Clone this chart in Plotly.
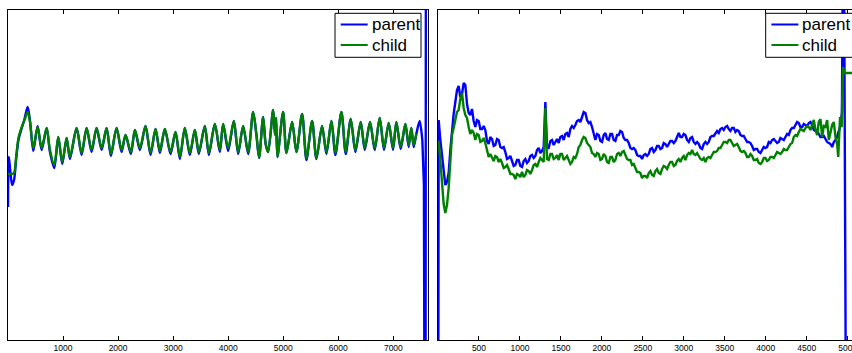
import plotly.graph_objects as go

# ---------------- data (y in arbitrary units) ----------------
# Left panel: shared sample positions for parent / child (peaks & troughs)
LEFT_X = [0, 15, 40, 75, 110, 150, 190, 250, 300, 357, 400, 460, 538, 611, 702, 762, 841, 913, 986,
          1065, 1125, 1246, 1337, 1428, 1518, 1609, 1700, 1791, 1869, 1972, 2063, 2136, 2232, 2305,
          2396, 2498, 2589, 2680, 2759, 2849, 2952, 3043, 3122, 3212, 3303, 3394, 3466, 3575, 3648,
          3757, 3848, 3908, 3999, 4102, 4181, 4271, 4362, 4453, 4513, 4561, 4634, 4680, 4725, 4816,
          4850, 4870, 4894, 4997, 5058, 5161, 5239, 5342, 5421, 5524, 5602, 5705, 5784, 5875, 5947,
          6056, 6135, 6225, 6310, 6407, 6480, 6576, 6661, 6752, 6830, 6915, 6994, 7054, 7133, 7218,
          7278, 7326, 7369, 7417]
LEFT_PARENT = [133, 183, 170, 155, 160, 182, 200, 212, 221, 233, 219, 189, 214, 190, 212, 188, 172, 203, 176,
               202, 181, 212, 185, 212, 188, 212, 190, 212, 184, 212, 188, 205, 186, 210,
               190, 214, 185, 211, 187, 211, 186, 208, 181, 212, 185, 210, 186, 214, 185,
               216, 188, 216, 189, 219, 186, 214, 186, 228, 205, 182, 223, 196, 188, 230,
               205, 222, 183, 228, 187, 218, 188, 226, 180, 219, 181, 214, 186, 219, 185,
               228, 186, 221, 188, 218, 190, 218, 190, 222, 190, 217, 190, 218, 191, 216,
               193, 212, 193, 206]
LEFT_CHILD = [166, 166, 166, 166, 167, 184, 202, 213, 220, 228, 218, 192, 213, 192, 212, 190, 175, 203, 178,
              202, 183, 212, 187, 212, 190, 212, 192, 212, 186, 212, 190, 205, 188, 210,
              192, 214, 187, 211, 189, 211, 188, 208, 183, 212, 187, 210, 188, 214, 187,
              216, 190, 216, 192, 219, 188, 214, 188, 228, 205, 182, 223, 196, 188, 230,
              205, 222, 183, 228, 187, 218, 188, 226, 182, 219, 182, 214, 188, 219, 187,
              228, 188, 221, 190, 218, 192, 218, 192, 222, 192, 217, 192, 218, 193, 216,
              195, 212, 195, 206]
LEFT_PARENT_END_X = [7477, 7526]
LEFT_PARENT_END = [219, 200]
LEFT_PARENT_TAIL_X = [7526, 7555, 7580, 7595]
LEFT_PARENT_TAIL = [200, 155, -400, 700]

# Right panel: regular sample grid (start, step) and values
R_START, R_STEP = 8, 20.35
R_PARENT = [220, 200, 183, 166, 155, 158, 167, 190, 210, 226, 238, 250, 254, 243, 246, 257, 255, 236, 227, 225,
            231, 219, 213, 220, 219, 211, 211, 214, 210, 199, 196, 203, 201, 194, 195, 201, 200, 193, 192, 193,
            188, 181, 182, 184, 179, 174, 175, 180, 180, 174, 173, 179, 181, 177, 179, 184, 185, 182, 184, 190,
            192, 187, 189, 193, 238, 192, 192, 199, 200, 195, 198, 201, 197, 203, 204, 200, 206, 207, 203, 211,
            214, 212, 215, 219, 220, 218, 223, 228, 227, 220, 217, 218, 213, 205, 200, 206, 205, 199, 198, 205,
            207, 201, 200, 206, 206, 200, 199, 205, 205, 209, 208, 202, 200, 200, 197, 192, 191, 192, 190, 185,
            184, 184, 181, 185, 186, 184, 186, 191, 192, 188, 190, 194, 194, 191, 192, 197, 196, 193, 196, 199,
            199, 197, 199, 204, 207, 203, 203, 206, 205, 200, 198, 202, 203, 198, 196, 198, 196, 192, 191, 196,
            198, 196, 198, 203, 204, 204, 207, 209, 207, 211, 212, 210, 213, 214, 211, 209, 212, 212, 208, 210,
            209, 205, 204, 204, 201, 198, 198, 197, 194, 190, 191, 191, 188, 187, 190, 193, 192, 193, 198, 197,
            200, 201, 199, 197, 198, 202, 201, 200, 203, 206, 205, 210, 212, 212, 215, 218, 217, 213, 213, 216,
            215, 214, 217, 218, 215, 210, 209, 209, 206, 203, 203, 204, 201, 198, 197, 196, 193, 198, 200, 203]
R_CHILD = [198, 180, 153, 136, 127, 135, 152, 182, 205, 212, 220, 228, 230, 241, 247, 232, 225, 222, 213, 206,
           210, 207, 200, 206, 205, 198, 199, 202, 197, 188, 183, 186, 182, 179, 184, 183, 178, 181, 177, 172,
           173, 175, 171, 166, 166, 165, 161, 166, 165, 163, 168, 163, 165, 170, 169, 166, 170, 175, 176, 173,
           178, 182, 180, 178, 232, 181, 180, 186, 186, 181, 182, 185, 180, 186, 186, 180, 182, 184, 180, 176,
           178, 183, 182, 186, 193, 195, 200, 203, 202, 197, 195, 193, 187, 186, 183, 187, 186, 180, 181, 186,
           184, 178, 177, 183, 183, 178, 180, 186, 187, 184, 188, 189, 185, 181, 180, 180, 175, 176, 172, 168,
           168, 167, 162, 164, 164, 162, 167, 169, 165, 164, 169, 171, 167, 166, 171, 174, 173, 171, 175, 178,
           178, 174, 175, 179, 181, 178, 182, 184, 180, 185, 187, 186, 190, 186, 185, 187, 184, 181, 180, 182,
           178, 182, 183, 182, 185, 188, 188, 189, 192, 192, 195, 198, 198, 197, 200, 200, 197, 194, 195, 196,
           193, 189, 188, 189, 187, 183, 183, 186, 184, 180, 180, 181, 177, 176, 178, 182, 182, 179, 180, 183,
           183, 182, 185, 188, 187, 186, 188, 191, 190, 190, 193, 196, 197, 203, 205, 204, 208, 211, 210, 209,
           212, 214, 213, 210, 215, 220, 210, 205, 218, 221, 203, 214, 213, 220, 200, 207, 215, 218, 203, 196]
R_PARENT_HEAD_X, R_PARENT_HEAD = [0], [-300]
R_PARENT_TAIL_X = [4880, 4907, 4930, 4950, 4985]
R_PARENT_TAIL = [206, 213, 227, 500, -200]
R_CHILD_HEAD_X, R_CHILD_HEAD = [0], [198]
R_CHILD_TAIL_X = [4885, 4907, 4927, 4943, 4962, 5060]
R_CHILD_TAIL = [183, 223, 213, 273, 267, 267]

LEFT_TICKS = [1000, 2000, 3000, 4000, 5000, 6000, 7000]
RIGHT_TICKS = [500, 1000, 1500, 2000, 2500, 3000, 3500, 4000, 4500, 5000]
SERIES_NAMES = ["parent", "child"]

BLUE = "#0000ff"
GREEN = "#008000"
COLORS = [BLUE, GREEN]
FONT = "Liberation Sans, Arial, Helvetica, sans-serif"
LW = 2.4

# ---------------- figure ----------------
grid_x = [R_START + R_STEP * k for k in range(len(R_PARENT))]
rp_x = R_PARENT_HEAD_X + grid_x + R_PARENT_TAIL_X
rp_y = R_PARENT_HEAD + R_PARENT + R_PARENT_TAIL
rc_x = R_CHILD_HEAD_X + grid_x + R_CHILD_TAIL_X
rc_y = R_CHILD_HEAD + R_CHILD + R_CHILD_TAIL

fig = go.Figure()
fig.add_trace(go.Scatter(x=LEFT_X + LEFT_PARENT_END_X, y=LEFT_PARENT + LEFT_PARENT_END, mode="lines",
                         line=dict(color=BLUE, width=LW, shape="spline", smoothing=0.8),
                         name="parent", xaxis="x", yaxis="y"))
fig.add_trace(go.Scatter(x=LEFT_PARENT_TAIL_X, y=LEFT_PARENT_TAIL, mode="lines",
                         line=dict(color=BLUE, width=LW), xaxis="x", yaxis="y"))
fig.add_trace(go.Scatter(x=LEFT_X, y=LEFT_CHILD, mode="lines",
                         line=dict(color=GREEN, width=LW, shape="spline", smoothing=0.8),
                         name="child", xaxis="x", yaxis="y"))
fig.add_trace(go.Scatter(x=rp_x, y=rp_y, mode="lines", line=dict(color=BLUE, width=LW),
                         name="parent", xaxis="x2", yaxis="y2"))
fig.add_trace(go.Scatter(x=rc_x, y=rc_y, mode="lines", line=dict(color=GREEN, width=LW),
                         name="child", xaxis="x2", yaxis="y2"))

W, H = 852, 353
top, bottom = 10, 13
plot_h = H - top - bottom


def px(x):
    return x / W


def py(y):
    return (H - bottom - y) / plot_h


xcommon = dict(showgrid=False, zeroline=False, showline=True, linecolor="black", linewidth=1,
               mirror="ticks", ticks="inside", ticklen=4, tickwidth=1, tickcolor="black",
               ticklabeloverflow="allow", automargin=False,
               tickfont=dict(family=FONT, size=8.5, color="black"))
ycommon = dict(showgrid=False, zeroline=False, showline=True, linecolor="black", linewidth=1,
               showticklabels=False, ticks="", range=[0, 330], automargin=False)

# legend boxes drawn as shapes + text annotations (matching the MATLAB legend geometry)
shapes, annotations = [], []
for (bx0, bx1) in [(335, 421), (765.7, 870)]:
    shapes.append(dict(type="rect", xref="paper", yref="paper", x0=px(bx0), x1=px(bx1),
                       y0=py(57.3), y1=py(13.3), fillcolor="white",
                       line=dict(color="black", width=1), layer="above"))
    for i, (name, col) in enumerate(zip(SERIES_NAMES, COLORS)):
        ly = 24.5 + 20.5 * i
        shapes.append(dict(type="line", xref="paper", yref="paper", x0=px(bx0 + 5.7), x1=px(bx0 + 32.7),
                           y0=py(ly), y1=py(ly), line=dict(color=col, width=2), layer="above"))
        annotations.append(dict(xref="paper", yref="paper", x=px(bx0 + 34.5), y=py(ly + 0.5),
                                xanchor="left", yanchor="middle", text=name, showarrow=False,
                                font=dict(family=FONT, size=17, color="black")))

fig.update_layout(
    template="none",
    width=W, height=H, autosize=False,
    margin=dict(l=0, r=0, t=top, b=bottom, pad=0),
    paper_bgcolor="white", plot_bgcolor="white",
    showlegend=False,
    xaxis=dict(domain=[8 / W, 427.5 / W], range=[0, 7620], tickvals=LEFT_TICKS, anchor="y", **xcommon),
    yaxis=dict(anchor="x", mirror=True, **ycommon),
    xaxis2=dict(domain=[438 / W, 1.0], range=[0, 5053], tickvals=RIGHT_TICKS, anchor="y2", **xcommon),
    yaxis2=dict(anchor="x2", mirror=False, **ycommon),
    shapes=shapes, annotations=annotations,
)

fig.write_html("out.html", config={"displayModeBar": False, "responsive": False})
